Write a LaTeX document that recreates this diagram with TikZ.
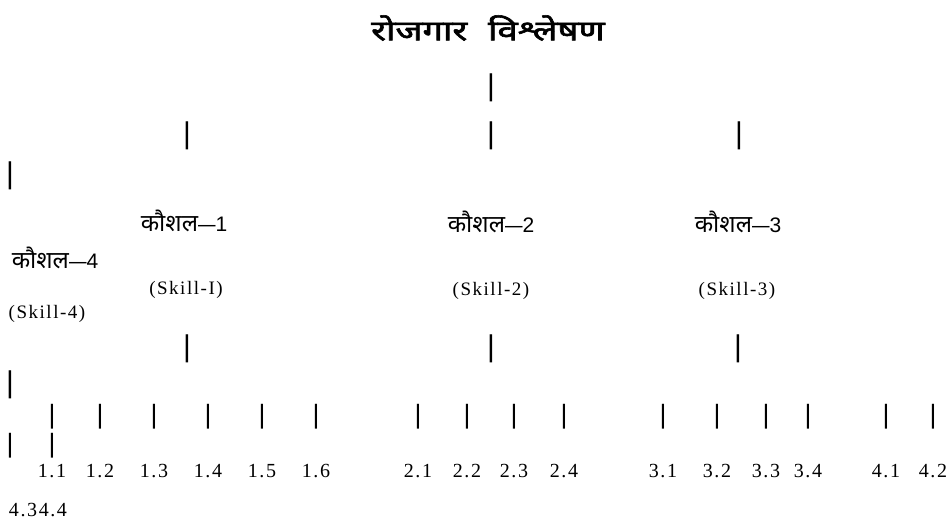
\documentclass[tikz,border=0pt]{standalone}
\usepackage{fontspec}
\setmainfont{Liberation Serif}
\newfontfamily\devafont[Script=Devanagari]{Noto Sans}
\newfontfamily\titlefont[Script=Devanagari,FakeBold=2]{Noto Sans}
\newfontfamily\barfont{Liberation Sans}
\newfontfamily\numfont[LetterSpace=8]{Liberation Serif}
\newcommand\skillhead[1]{{\devafont\fontsize{24}{28}\selectfont कौशल}{\barfont\fontsize{21}{24}\selectfont\scalebox{1.5}[1]{–}#1}}
\begin{document}
\begin{tikzpicture}[x=1pt,y=-1pt,
  every node/.style={inner sep=0pt,outer sep=0pt},
  title/.style={font=\titlefont\fontsize{28}{32}\selectfont},
  bigbar/.style={font=\barfont\fontsize{30}{30}\selectfont},
  smallbar/.style={font=\barfont\fontsize{26.5}{26.5}\selectfont},
  skillhi/.style={},
  skillen/.style={font=\numfont\fontsize{19}{22}\selectfont},
  numlab/.style={font=\numfont\fontsize{20}{22}\selectfont}]
\useasboundingbox (0,0) rectangle (951,520);
\fill[white] (0,0) rectangle (951,520);
% title
\node[title] (title) at (488,28) {\scalebox{1.3}[1]{रोजगार\hspace{16pt}विश्लेषण}};
% bars under title
\node[bigbar] (b0) at (491,88) {|};
\node[bigbar] (b1) at (187,136) {|};
\node[bigbar] (b2) at (491,136) {|};
\node[bigbar] (b3) at (739,136) {|};
\node[bigbar] (b4) at (10,176) {|};
% skill headings
\node[skillhi] (k1) at (184,221) {\skillhead{1}};
\node[skillhi] (k2) at (491,222) {\skillhead{2}};
\node[skillhi] (k3) at (738,222) {\skillhead{3}};
\node[skillhi] (k4) at (55,258) {\skillhead{4}};
\node[skillen] (s1) at (186,290) {(Skill-I)};
\node[skillen] (s2) at (491,291) {(Skill-2)};
\node[skillen] (s3) at (737,291) {(Skill-3)};
\node[skillen] (s4) at (47,314) {(Skill-4)};
% bars under skills
\node[bigbar] (c1) at (187,349) {|};
\node[bigbar] (c2) at (491,349) {|};
\node[bigbar] (c3) at (738,349) {|};
\node[bigbar] (c4) at (10,385) {|};
% small bars and labels
\foreach \x/\t [count=\i] in {52/1.1,100/1.2,154/1.3,208/1.4,262/1.5,316/1.6,
  418/2.1,467/2.2,514/2.3,564/2.4,663/3.1,717/3.2,766/3.3,808/3.4,886/4.1,933/4.2}{
  \node[smallbar] (d\i) at (\x,417) {|};
  \node[numlab] (n\i) at (\x,471) {\t};
}
\node[smallbar] (e1) at (10,446) {|};
\node[smallbar] (e2) at (52,446) {|};
\node[numlab] (n17) at (38,510) {4.34.4};
\end{tikzpicture}
\end{document}
